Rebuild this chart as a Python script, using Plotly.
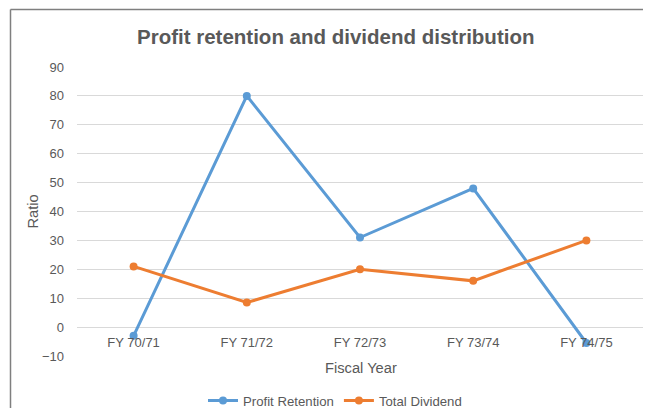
import plotly.graph_objects as go

# data
fiscal_years = ["FY 70/71", "FY 71/72", "FY 72/73", "FY 73/74", "FY 74/75"]
profit_retention = [-3, 80, 31, 48, -5.5]
total_dividend = [21, 8.5, 20, 16, 30]
y_ticks = [-10, 0, 10, 20, 30, 40, 50, 60, 70, 80, 90]

GREY = '#595959'
GRID = '#D9D9D9'
FONT = 'Liberation Sans, Arial, sans-serif'

# plot area in page pixels: x 77..643, y 67..356
PX0, PW = 77, 566
PY1, PH = 356, 289

def px(x):
    return (x - PX0) / PW

def py(y):
    return (PY1 - y) / PH

fig = go.Figure()

fig.add_trace(go.Scatter(x=fiscal_years, y=profit_retention, name='Profit Retention',
                         mode='lines+markers',
                         line=dict(color='#5B9BD5', width=3),
                         marker=dict(color='#5B9BD5', size=8)))
fig.add_trace(go.Scatter(x=fiscal_years, y=total_dividend, name='Total Dividend',
                         mode='lines+markers',
                         line=dict(color='#ED7D31', width=3),
                         marker=dict(color='#ED7D31', size=8)))

fig.update_yaxes(range=[-10, 90], tickvals=y_ticks, showgrid=True, gridcolor=GRID, gridwidth=1,
                 zeroline=True, zerolinecolor=GRID, zerolinewidth=1, showline=False,
                 automargin=False,
                 tickfont=dict(family=FONT, color=GREY, size=13), ticklabelstandoff=12)

# x axis sits on the zero line, like Excel does
fig.update_xaxes(anchor='free', position=0.1, showgrid=False, showline=False, ticks='',
                 range=[-0.5, 4.5], automargin=False, ticklabelstandoff=6,
                 tickfont=dict(family=FONT, color=GREY, size=13))

# the page has an 8px body margin; keep the figure inside the window so no scrollbars show
fig.update_layout(
    width=635, height=400,
    margin={'l': 69, 'r': 0, 't': 59, 'b': 52, 'autoexpand': False},
    plot_bgcolor='white', paper_bgcolor='white',
    font=dict(family=FONT, color=GREY, size=13),
    showlegend=True,
    legend=dict(orientation='h', x=px(335), xanchor='center', y=py(401),
                yanchor='middle', font=dict(family=FONT, color=GREY, size=13.2), itemwidth=30,
                bgcolor='rgba(0,0,0,0)'),
    annotations=[
        dict(text='<b>Profit retention and dividend distribution</b>', xref='paper', yref='paper',
             x=px(335), y=py(37), xanchor='center', yanchor='middle',
             showarrow=False, font=dict(family=FONT, color=GREY, size=20.5)),
        dict(text='Fiscal Year', xref='paper', yref='paper',
             x=px(361), y=py(368), xanchor='center', yanchor='middle',
             showarrow=False, font=dict(family=FONT, color=GREY, size=14.7)),
        dict(text='Ratio', xref='paper', yref='paper', textangle=-90,
             x=px(32), y=0.5, xanchor='center', yanchor='middle',
             showarrow=False, font=dict(family=FONT, color=GREY, size=14.7)),
    ],
    shapes=[
        # chart area border: only the left and top edges are inside the picture
        dict(type='line', xref='paper', yref='paper',
             x0=px(10.5), x1=px(10.5), y0=py(420), y1=py(9.5),
             line=dict(color='#7F7F7F', width=1.5), layer='below'),
        dict(type='line', xref='paper', yref='paper',
             x0=px(10.5), x1=px(700), y0=py(9.5), y1=py(9.5),
             line=dict(color='#7F7F7F', width=1.5), layer='below'),
    ],
)

fig.write_html("out.html")
